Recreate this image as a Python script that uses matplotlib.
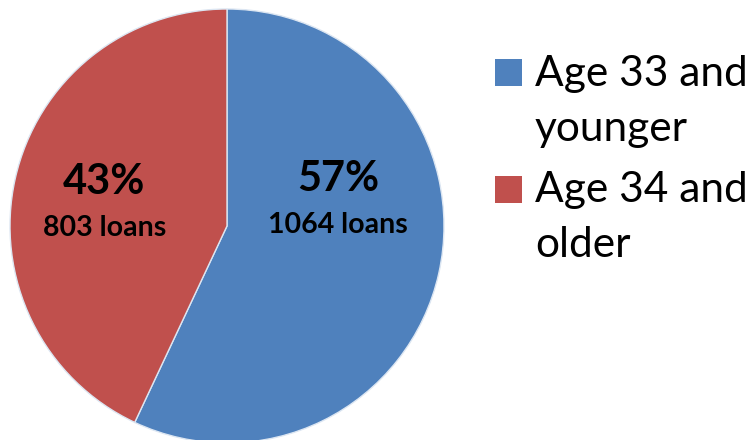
import matplotlib
matplotlib.use("Agg")
import matplotlib.pyplot as plt
from matplotlib.patches import Rectangle

categories = ["Age 33 and\nyounger", "Age 34 and\nolder"]
loans = [1064, 803]
pct_labels = ["57%", "43%"]
loan_labels = ["1064 loans", "803 loans"]
colors = ["#4F81BD", "#C0504D"]

W, H = 754, 440
fig = plt.figure(figsize=(W / 100, H / 100), dpi=100)
plt.rcParams['font.family'] = ['Lato', 'DejaVu Sans']

cx, cy, r = 227, 226, 217
ax = fig.add_axes([(cx - r) / W, (H - cy - r) / H, 2 * r / W, 2 * r / H])
ax.pie(loans, colors=colors, startangle=90, counterclock=False,
       wedgeprops=dict(edgecolor="#dce6f2", linewidth=1.0))
ax.set_xlim(-1, 1)
ax.set_ylim(-1, 1)
ax.set_aspect("auto")

# in-slice labels (axes coords)
label_pos = [(0.756, 0.581), (0.217, 0.574)]
for (x, y), p, l in zip(label_pos, pct_labels, loan_labels):
    ax.text(x, y, p, transform=ax.transAxes, ha="center", va="baseline",
            fontsize=30, fontweight="bold", color="black")
    ax.text(x, y - 0.098, l, transform=ax.transAxes, ha="center", va="baseline",
            fontsize=20.5, fontweight="bold", color="black")

# legend drawn manually in figure pixel coordinates
def fx(px):
    return px / W

def fy(py):
    return 1 - py / H

sq_tops = [59, 176]
base_lines = [85.7, 201.7]
line_gap = 55.5
for top, base, c, lab in zip(sq_tops, base_lines, colors, categories):
    fig.patches.append(Rectangle((fx(495), fy(top + 27)), 27 / W, 27 / H,
                                 transform=fig.transFigure, facecolor=c,
                                 edgecolor="none"))
    for i, line in enumerate(lab.split("\n")):
        fig.text(fx(535), fy(base + i * line_gap), line, ha="left",
                 va="baseline", fontsize=30.5, color="black")

fig.savefig("out.png", dpi=100)
